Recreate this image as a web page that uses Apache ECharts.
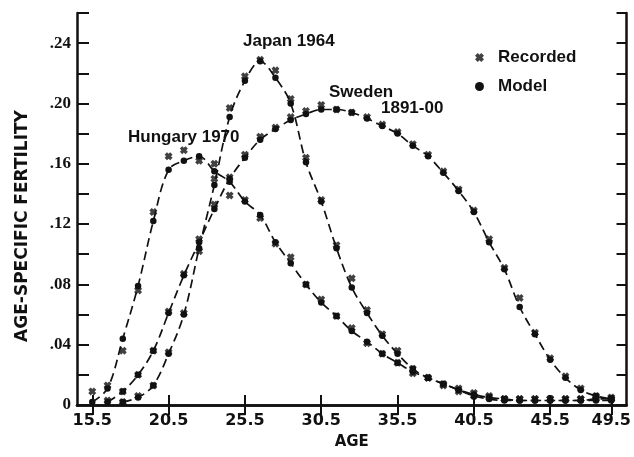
<!DOCTYPE html>
<html>
<head>
<meta charset="utf-8">
<script src="https://cdn.jsdelivr.net/npm/echarts@6/dist/echarts.min.js"></script>
<style>
html,body{margin:0;padding:0;background:#fff;}
#chart{width:634px;height:457px;}
</style>
</head>
<body>
<div id="chart"></div>
<script>
// ---- data ----
const ages = [15.5,16.5,17.5,18.5,19.5,20.5,21.5,22.5,23.5,24.5,25.5,26.5,27.5,28.5,29.5,30.5,31.5,32.5,33.5,34.5,35.5,36.5,37.5,38.5,39.5,40.5,41.5,42.5,43.5,44.5,45.5,46.5,47.5,48.5,49.5];

const hungaryRecorded = [0.009,0.013,0.036,0.076,0.128,0.165,0.169,0.162,0.160,0.139,0.136,0.124,0.107,0.098,0.080,0.070,0.059,0.051,0.041,0.034,0.028,0.021,0.018,0.014,0.011,0.008,0.006,0.004,0.004,0.004,0.004,0.004,0.004,0.004,0.004];
const hungaryModel    = [0.002,0.011,0.044,0.079,0.122,0.156,0.162,0.165,0.155,0.148,0.135,0.126,0.108,0.094,0.080,0.068,0.059,0.049,0.042,0.034,0.028,0.022,0.018,0.014,0.010,0.007,0.005,0.004,0.003,0.003,0.003,0.003,0.003,0.003,0.003];

const japanRecorded = [null,null,0.002,0.006,0.013,0.035,0.061,0.102,0.150,0.197,0.218,0.229,0.222,0.203,0.164,0.136,0.106,0.084,0.063,0.047,0.036,0.024,0.018,0.013,0.009,0.006,0.005,0.004,0.004,0.004,0.004,0.004,0.004,0.005,0.005];
const japanModel    = [null,null,0.002,0.005,0.013,0.034,0.060,0.104,0.146,0.191,0.215,0.228,0.217,0.200,0.161,0.135,0.104,0.078,0.061,0.046,0.034,0.024,0.018,0.014,0.010,0.006,0.004,0.003,0.003,0.003,0.003,0.003,0.003,0.004,0.004];

const swedenRecorded = [null,0.003,0.009,0.020,0.036,0.062,0.087,0.110,0.133,0.151,0.166,0.178,0.184,0.191,0.195,0.199,0.196,0.194,0.191,0.186,0.181,0.173,0.166,0.155,0.143,0.129,0.110,0.091,0.071,0.048,0.031,0.019,0.011,0.006,0.004];
const swedenModel    = [null,0.002,0.009,0.020,0.036,0.061,0.086,0.108,0.130,0.150,0.164,0.176,0.183,0.189,0.193,0.196,0.196,0.194,0.190,0.185,0.180,0.172,0.165,0.154,0.142,0.128,0.108,0.090,0.065,0.047,0.030,0.018,0.010,0.006,0.004];

const xTickValues = [15.5,20.5,25.5,30.5,35.5,40.5,45.5,49.5];
const yLabelText = {0:'0',4:'.04',8:'.08',12:'.12',16:'.16',20:'.20',24:'.24'};

// ---- chart ----
const pairs = arr => ages.map((a,i)=>[a,arr[i]]).filter(p=>p[1]!=null);
const xMark = 'path://M0,3L3,0L5,2L7,0L10,3L8,5L10,7L7,10L5,8L3,10L0,7L2,5Z';
const ink = '#111';
const annFont = 'bold 17px "Liberation Sans"';

function recorded(arr){
  return {name:'Recorded', type:'scatter', data:pairs(arr), symbol:xMark, symbolSize:8,
    itemStyle:{color:ink}, z:4, silent:true};
}
function model(arr){
  return {name:'Model', type:'line', data:pairs(arr), smooth:0.35, symbol:'circle', symbolSize:6.5,
    showSymbol:true, itemStyle:{color:ink}, lineStyle:{color:ink, width:1.7, type:[9,5]}, z:3, silent:true};
}

const axisLine = {show:true, lineStyle:{color:ink, width:2.5}};
const chart = echarts.init(document.getElementById('chart'));
chart.setOption({
  animation:false,
  backgroundColor:'#fff',
  grid:{left:77, right:5, top:13, bottom:52},
  xAxis:[
    {type:'value', min:14.5, max:50.5, position:'bottom', axisLine,
     axisTick:{show:true, inside:true, length:10, customValues:xTickValues, lineStyle:{color:ink,width:2}},
     axisLabel:{show:true, customValues:xTickValues, margin:8, color:ink,
       fontFamily:'DejaVu Sans', fontWeight:'bold', fontSize:16, formatter:v=>v.toFixed(1)},
     splitLine:{show:false},
     name:'AGE', nameLocation:'middle', nameGap:30,
     nameTextStyle:{color:ink, fontFamily:'DejaVu Sans', fontWeight:'bold', fontSize:15}},
    {type:'value', min:14.5, max:50.5, position:'top', axisLine,
     axisTick:{show:true, inside:true, length:10, customValues:xTickValues, lineStyle:{color:ink,width:2}},
     axisLabel:{show:false}, splitLine:{show:false}}
  ],
  yAxis:[
    {type:'value', min:0, max:0.26, interval:0.02, position:'left', axisLine,
     axisTick:{show:true, inside:true, length:12, lineStyle:{color:ink,width:2}},
     axisLabel:{show:true, margin:6, color:ink, fontFamily:'Liberation Sans Narrow', fontWeight:'bold', fontSize:17,
       formatter:v=>{const k=Math.round(v*100); return yLabelText[k]!==undefined?yLabelText[k]:'';}},
     splitLine:{show:false}},
    {type:'value', min:0, max:0.26, interval:0.02, position:'right', axisLine,
     axisTick:{show:true, inside:true, length:10, lineStyle:{color:ink,width:2}},
     axisLabel:{show:false}, splitLine:{show:false}}
  ],
  legend:{orient:'vertical', left:470, top:44, itemWidth:9, itemHeight:9, itemGap:12,
    textStyle:{color:ink, fontFamily:'Liberation Sans', fontWeight:'bold', fontSize:17, padding:[0,0,0,9]},
    data:[{name:'Recorded', icon:xMark},{name:'Model', icon:'circle'}]},
  graphic:[
    {type:'text', x:23, y:226, rotation:Math.PI/2,
     style:{text:'AGE-SPECIFIC FERTILITY', fill:ink, font:'bold 17px "DejaVu Sans"', align:'center', verticalAlign:'middle'}},
    {type:'text', x:243, y:41, style:{text:'Japan 1964', fill:ink, font:annFont, verticalAlign:'middle'}},
    {type:'text', x:329, y:92, style:{text:'Sweden', fill:ink, font:annFont, verticalAlign:'middle'}},
    {type:'text', x:381, y:108, style:{text:'1891-00', fill:ink, font:annFont, verticalAlign:'middle'}},
    {type:'text', x:128, y:137, style:{text:'Hungary 1970', fill:ink, font:annFont, verticalAlign:'middle'}}
  ],
  series:[
    model(hungaryModel), recorded(hungaryRecorded),
    model(japanModel), recorded(japanRecorded),
    model(swedenModel), recorded(swedenRecorded)
  ]
});
</script>
</body>
</html>
